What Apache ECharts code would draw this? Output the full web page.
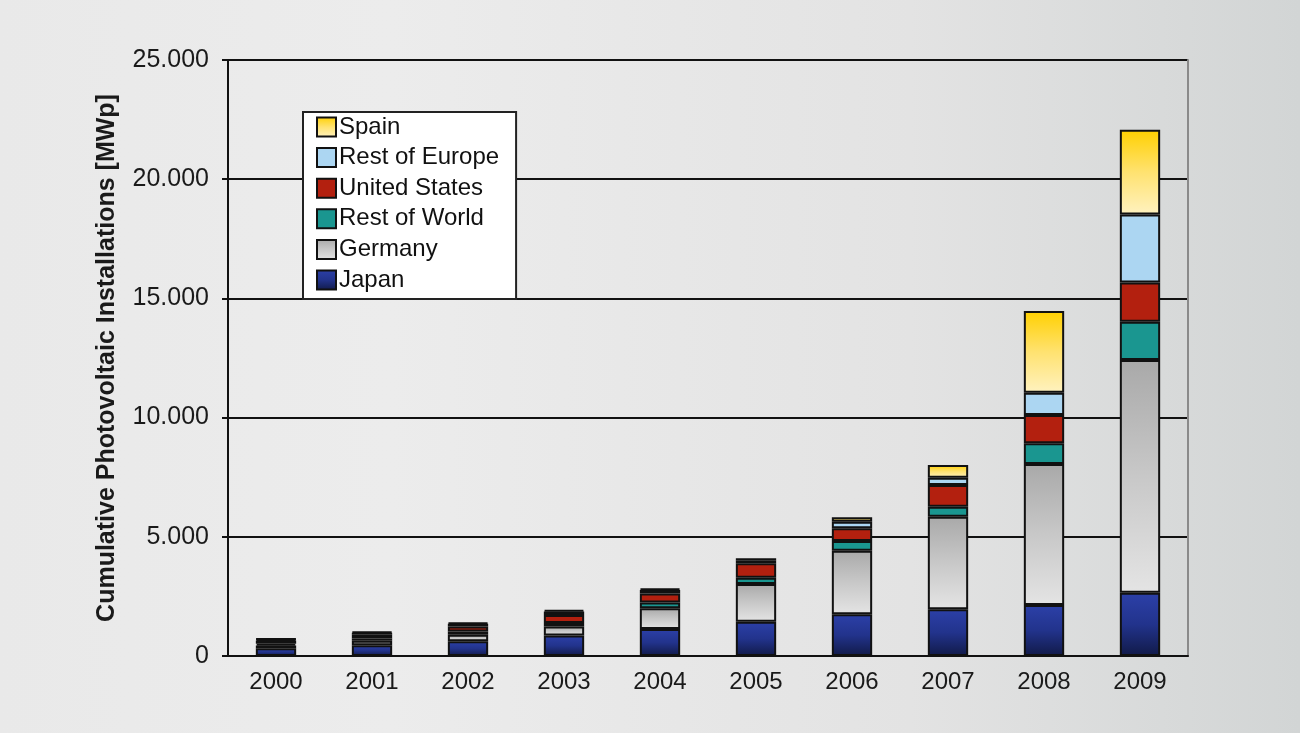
<!DOCTYPE html>
<html>
<head>
<meta charset="utf-8">
<script src="https://cdn.jsdelivr.net/npm/echarts@6/dist/echarts.min.js"></script>
<style>
html, body { margin: 0; padding: 0; }
body { background: linear-gradient(to right, #e9e9e9 0%, #ececec 30%, #e3e3e3 70%, #d2d5d5 100%); }
#echar { width: 1300px; height: 733px; }
</style>
</head>
<body>
<div id="echar"></div>
<script>
// data (MWp, per layer)
var years = ['2000', '2001', '2002', '2003', '2004', '2005', '2006', '2007', '2008', '2009'];
var japan = [330, 450, 620, 860, 1130, 1440, 1750, 1960, 2140, 2650];
var germany = [110, 190, 270, 380, 870, 1580, 2670, 3880, 5910, 9770];
var restOfWorld = [70, 90, 140, 140, 240, 260, 400, 420, 870, 1600];
var unitedStates = [140, 160, 210, 340, 380, 610, 540, 910, 1190, 1650];
var restOfEurope = [50, 90, 110, 150, 150, 110, 270, 310, 930, 2850];
var spain = [20, 40, 50, 60, 50, 100, 190, 530, 3430, 3550];
var yTicks = [0, 5000, 10000, 15000, 20000, 25000];

var myChart = echarts.init(document.getElementById('echar'));

function grad(top, mid, bottom) {
	return new echarts.graphic.LinearGradient(0, 0, 0, 1, [
		{offset: 0, color: top},
		{offset: 0.5, color: mid},
		{offset: 1, color: bottom}
	]);
}

function layer(name, data, color) {
	return {
		name: name,
		type: 'bar',
		stack: 'pv',
		barWidth: '42%',
		data: data,
		itemStyle: {color: color, borderColor: '#111', borderWidth: 2}
	};
}

var option = {
	animation: false,
	grid: {left: 228, right: 112, top: 60, bottom: 77},
	legend: {
		orient: 'vertical',
		left: 303, top: 112,
		padding: [3, 17, 7, 13],
		icon: 'rect',
		itemGap: 6.6,
		itemWidth: 19, itemHeight: 19,
		backgroundColor: '#fff',
		borderColor: '#222', borderWidth: 2,
		textStyle: {fontFamily: 'Liberation Sans', fontSize: 24, color: '#111', padding: [0, 0, 0, -2]},
		data: ['Spain', 'Rest of Europe', 'United States', 'Rest of World', 'Germany', 'Japan']
	},
	xAxis: {
		type: 'category',
		data: years,
		axisLine: {lineStyle: {color: '#111', width: 2}},
		axisTick: {length: 9, lineStyle: {color: '#111', width: 2}},
		axisLabel: {fontFamily: 'Liberation Sans', fontSize: 24, color: '#1a1a1a', margin: 14}
	},
	yAxis: [{
		type: 'value',
		min: yTicks[0], max: yTicks[yTicks.length - 1], interval: 5000,
		name: 'Cumulative Photovoltaic Installations [MWp]',
		nameLocation: 'middle',
		nameGap: 108,
		nameTextStyle: {fontFamily: 'Liberation Sans', fontSize: 25, fontWeight: 'bold', color: '#1a1a1a'},
		axisLine: {show: true, lineStyle: {color: '#111', width: 2}},
		axisTick: {show: true, length: 6, lineStyle: {color: '#111', width: 2}},
		splitLine: {lineStyle: {color: '#111', width: 2}},
		axisLabel: {
			fontFamily: 'Liberation Sans', fontSize: 25, color: '#1a1a1a', margin: 19,
			formatter: function (v) { return v === 0 ? '0' : String(v).replace(/\B(?=(\d{3})+$)/g, '.'); }
		}
	}, {
		type: 'value',
		position: 'right',
		min: 0, max: 25000,
		axisLine: {show: true, lineStyle: {color: '#8a8a8a', width: 2}},
		axisTick: {show: false}, axisLabel: {show: false}, splitLine: {show: false}
	}],
	series: [
		layer('Japan', japan, grad('#2c40a8', '#22338c', '#111a48')),
		layer('Germany', germany, grad('#a9a9a9', '#c8c8c8', '#e4e4e4')),
		layer('Rest of World', restOfWorld, '#1a9690'),
		layer('United States', unitedStates, '#b3200f'),
		layer('Rest of Europe', restOfEurope, '#acd6f2'),
		layer('Spain', spain, grad('#ffd000', '#ffe270', '#fff2c0'))
	]
};

myChart.setOption(option);
</script>
</body>
</html>
